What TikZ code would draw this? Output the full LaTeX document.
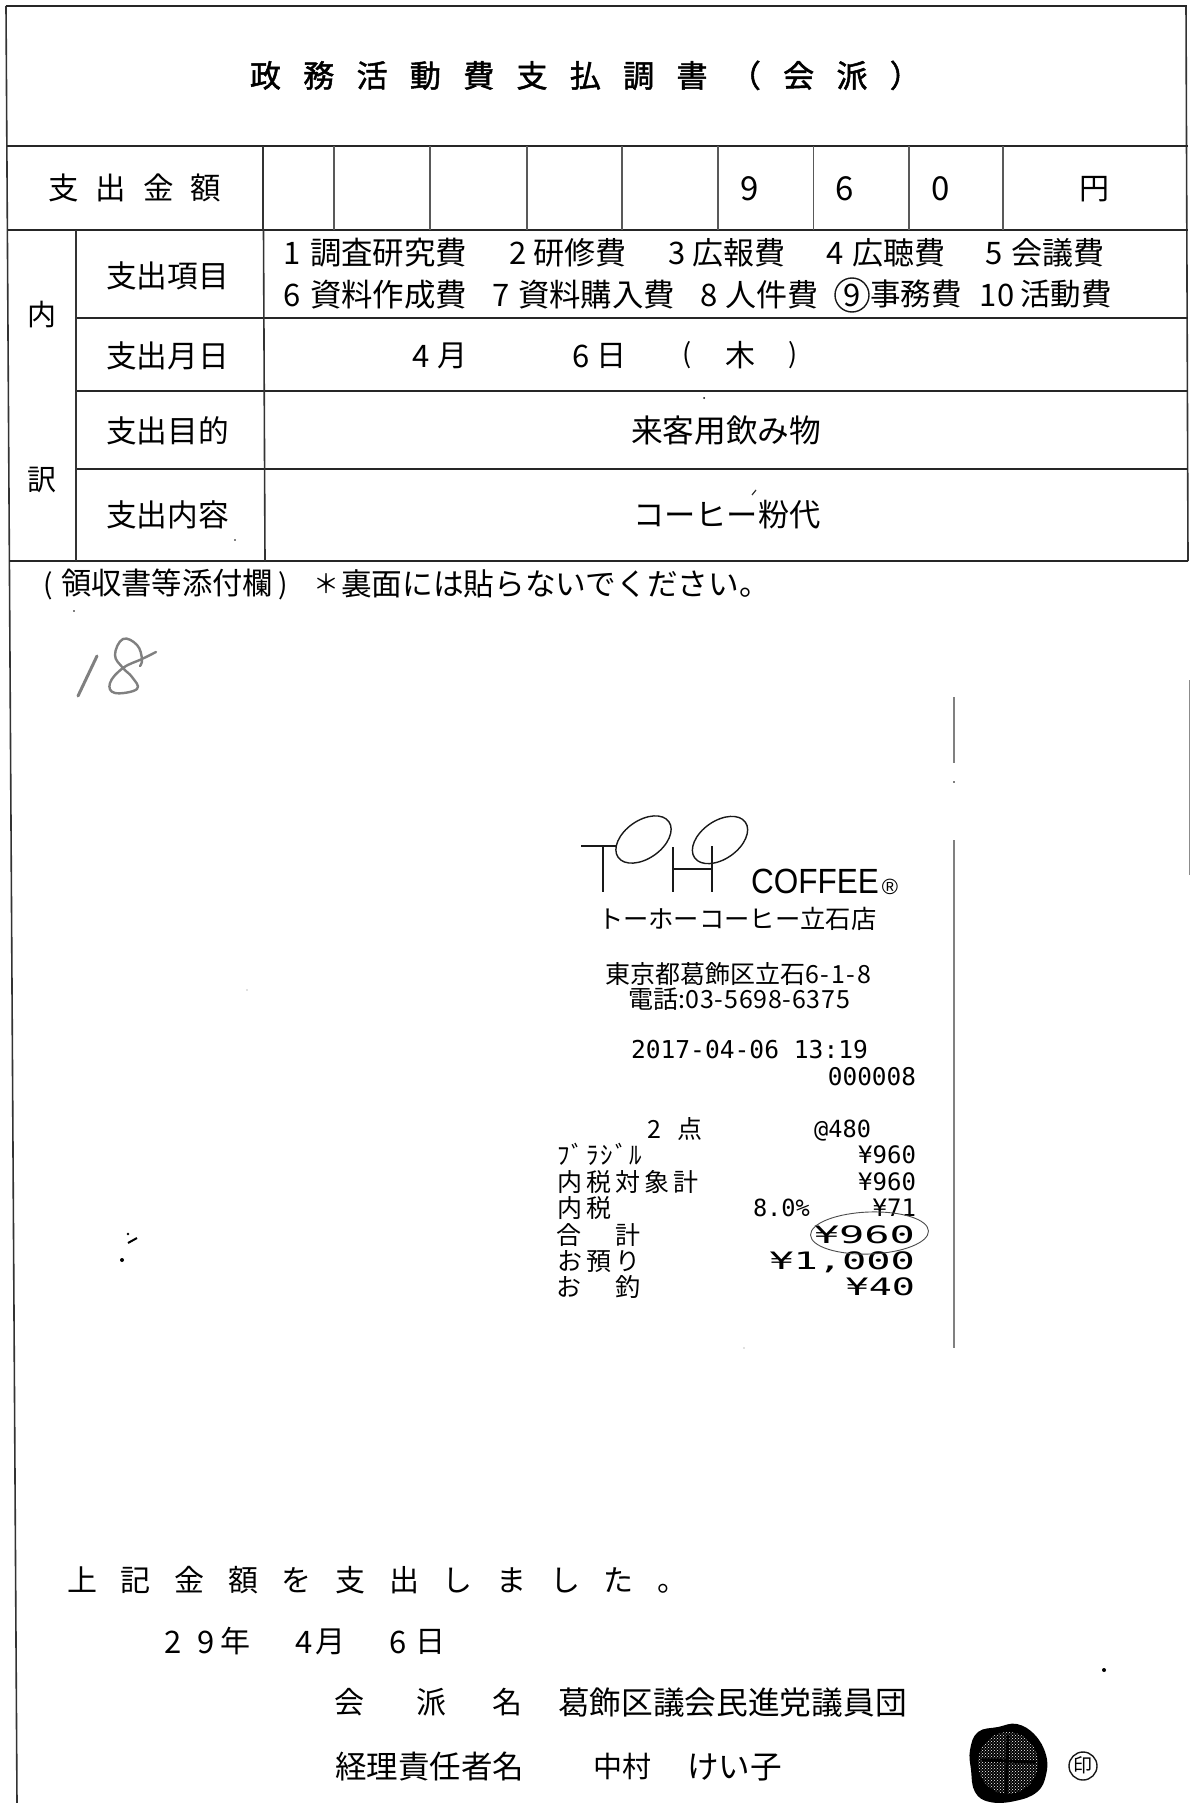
\documentclass[tikz,border=0pt]{standalone}
\usepackage{fontspec}
\usepackage{graphicx}
\usetikzlibrary{patterns}
\setmainfont{Noto Sans CJK JP}
\newfontfamily\rcfont{DejaVu Sans Mono}
\newfontfamily\lgfont{Liberation Sans}
\tikzset{
  txt/.style={inner sep=0pt,outer sep=0pt,text=black},
  frameh/.style={line width=2.2pt,black!85},
  framev/.style={line width=1.6pt,black!80},
  cellv/.style={line width=1.2pt,black!65},
  rollline/.style={line width=1.6pt,black!50},
  logoline/.style={line width=1.4pt,black!90},
  handink/.style={line width=3pt,black!50,line cap=round,line join=round},
  speck/.style={fill=black,draw=none}
}
% name, left x, centre y, size, letter spacing %, text
\newcommand\tx[6]{\node[txt,anchor=base west] (#1) at (#2,{#3+0.36*#4}) {\fontsize{#4pt}{#4pt}\selectfont\addfontfeature{LetterSpace=#5}#6};}
% name, centre x, centre y, size, text
\newcommand\cx[5]{\node[txt,anchor=base] (#1) at (#2,{#3+0.36*#4}) {\fontsize{#4pt}{#4pt}\selectfont #5};}
% mono left: name, left x, centre y, size, text
\newcommand\rl[5]{\node[txt,anchor=base west] (#1) at (#2,{#3+0.36*#4}) {\fontsize{#4pt}{#4pt}\selectfont\rcfont #5};}
% mono right: name, right x, centre y, size, x-stretch, text
\newcommand\rr[6]{\node[txt,anchor=base east] (#1) at (#2,{#3+0.36*#4}) {\scalebox{#5}[1]{\fontsize{#4pt}{#4pt}\selectfont\rcfont #6}};}
\begin{document}
\begin{tikzpicture}[x=1pt,y=-1pt]
\useasboundingbox (0,0) rectangle (1190,1803);
\fill[white] (0,0) rectangle (1190,1803);
% frame
\draw[framev] (6,6) -- (17,1803);
\draw[framev] (1186,6) -- (1188,561);
\draw[line width=1pt,black!45] (1189,680) -- (1189,875);
\draw[frameh] (6,6) -- (1187,6);
\draw[frameh] (7,146) -- (1188,146);
\draw[frameh] (8,230) -- (1188,230);
\draw[frameh] (76,318) -- (1188,318);
\draw[frameh] (76,391) -- (1188,391);
\draw[frameh] (76,469) -- (1188,469);
\draw[frameh] (9,561) -- (1188,561);
\draw[framev] (76,230) -- (76,561);
\draw[framev] (263,146) -- (263,230);
\draw[framev] (263.5,230) -- (265,561);
\foreach \cxv in {334,430,527,622,718,813.5,909,1003}{\draw[cellv] (\cxv,146) -- (\cxv,230);}
% title
\tx{title}{250}{76}{31}{72}{\addfontfeature{FakeBold=1.6}政務活動費支払調書（会派）}
% amount row
\tx{amtlabel}{48}{189}{30.5}{56}{支出金額}
\cx{d9}{750}{189}{33}{9}
\cx{d6}{845}{189}{33}{6}
\cx{d0}{941}{189}{33}{0}
\cx{yen}{1094}{189}{30}{円}
% side labels
\cx{uchi}{42}{315}{29}{内}
\cx{wake}{42}{480}{29}{訳}
% row labels
\tx{l1}{106}{276}{30.7}{0}{支出項目}
\tx{l2}{106}{356}{30.7}{0}{支出月日}
\tx{l3}{106}{431}{30.7}{0}{支出目的}
\tx{l4}{106}{515}{30.7}{0}{支出内容}
% items row 1
\cx{n1}{292}{253}{31}{1}\tx{i1}{310}{253}{31.4}{0}{調査研究費}
\cx{n2}{518}{253}{31}{2}\tx{i2}{533}{253}{31}{0}{研修費}
\cx{n3}{677}{253}{31}{3}\tx{i3}{692}{253}{31}{0}{広報費}
\cx{n4}{835}{253}{31}{4}\tx{i4}{852}{253}{31}{0}{広聴費}
\cx{n5}{994}{253}{31}{5}\tx{i5}{1011}{253}{31}{0}{会議費}
% items row 2
\cx{n6}{292}{295}{31}{6}\tx{i6}{310}{295}{31.4}{0}{資料作成費}
\cx{n7}{501}{295}{31}{7}\tx{i7}{518}{295}{31.4}{0}{資料購入費}
\cx{n8}{709}{295}{31}{8}\tx{i8}{725}{295}{31}{0}{人件費}
\cx{n9}{852}{295}{31}{9}\tx{i9}{870}{295}{30.5}{0}{事務費}
\draw[line width=1.4pt,black!90] (852,295) circle (17);
\cx{n10}{997}{295}{31}{10}\tx{i10}{1020}{295}{30.5}{0}{活動費}
% date row
\cx{dm}{421}{356}{31}{4}\cx{dmk}{452}{356}{30}{月}
\cx{dd}{581}{356}{31}{6}\cx{ddk}{611}{356}{30}{日}
\cx{dpl}{687}{354}{27}{(}\cx{dwk}{740}{356}{30}{木}\cx{dpr}{793}{354}{27}{)}
% purpose, content
\tx{purpose}{631}{431}{31.7}{0}{来客用飲み物}
\tx{content}{633}{515}{31.3}{0}{コーヒー粉代}
\draw[line width=1.2pt,black!80] (752,495) -- (756,490);
\fill[speck] (704,398) circle (1);
\fill[speck] (235,540) circle (0.8);
% attachment note
\cx{attl}{48}{584}{28}{(}
\tx{attach}{61}{584}{30.3}{0}{領収書等添付欄}
\cx{attr}{283}{584}{28}{)}
\cx{star}{326}{584}{26}{＊}
\tx{note}{341}{584}{30.7}{0}{裏面には貼らないでください。}
% handwritten 18
\draw[handink] (97,656) -- (78,696);
\draw[handink,line width=2.4pt] plot[smooth,tension=0.7] coordinates {(156,652) (142,659) (123,668) (110,683) (115,693) (137,689) (132,677) (123,668) (115,655) (123,639) (137,645) (142,659) (140,666)};
\fill[speck] (74,611) circle (0.8);
\fill[speck] (128,1234) circle (1.3);
\draw[line width=2pt] (128,1243) -- (137,1238);
\fill[speck] (122,1260) circle (2);
\fill[black!50] (247,990) circle (0.6);
\fill[black!50] (744,1348) circle (0.7);
% receipt edge
\draw[rollline] (954,697) -- (954,763);
\draw[rollline] (953,782) -- (955,782);
\draw[rollline] (954,840) -- (954,1348);
% logo
\draw[logoline] (581,846) -- (617,846);
\draw[logoline] (603,846) -- (603,892);
\draw[logoline] (643.5,839.5) ellipse [x radius=31,y radius=19,rotate=35];
\draw[logoline] (720,840) ellipse [x radius=31,y radius=19,rotate=35];
\draw[logoline] (673,847) -- (673,892);
\draw[logoline] (712,846) -- (712,892);
\draw[logoline] (673,869) -- (712,869);
\node[txt,anchor=base west] (coffee) at (751,893) {\scalebox{0.9}[1]{\fontsize{35pt}{35pt}\selectfont\lgfont COFFEE}};
\node[txt] (regmark) at (890,887) {\fontsize{22pt}{22pt}\selectfont\lgfont ®};
% receipt header
\tx{shop}{598}{919}{25.3}{0}{トーホーコーヒー立石店}
\tx{addr}{605}{974}{25}{0}{東京都葛飾区立石{\addfontfeature{LetterSpace=7}6-1-8}}
\tx{tel}{628}{999}{25}{0}{電話{\addfontfeature{LetterSpace=3}:03-5698-6375}}
\rl{stamp}{631}{1050}{24.6}{2017-04-06 13:19}
\rr{seq}{916}{1077}{24.4}{1}{000008}
% receipt lines
\cx{qty}{654}{1129}{25}{2}\cx{qtyk}{690}{1129}{25}{点}
\rr{unit}{871}{1129}{23.6}{1}{@480}
\tx{item}{557}{1155}{25}{8}{ﾌﾞﾗｼﾞﾙ}
\rr{price}{916}{1155}{24}{1}{¥960}
\tx{taxbase}{557}{1182}{25}{16}{内税対象計}
\rr{taxbasev}{916}{1182}{24}{1}{¥960}
\tx{tax}{557}{1208}{25}{16}{内税}
\rl{rate}{753}{1208}{23.6}{8.0\%}
\rr{taxv}{916}{1208}{24}{1}{¥71}
\cx{tot1}{569}{1235}{25}{合}\cx{tot2}{628}{1235}{25}{計}
\rr{totv}{915}{1235}{24}{1.75}{¥960}
\tx{dep}{557}{1261}{25}{16}{お預り}
\rr{depv}{915}{1261}{24}{1.68}{¥1,000}
\cx{chg1}{569}{1287}{25}{お}\cx{chg2}{628}{1287}{25}{釣}
\rr{chgv}{915}{1287}{24}{1.6}{¥40}
\draw[line width=0.9pt,black!70] (869.5,1233) ellipse [x radius=59,y radius=21,rotate=2];
% declaration
\tx{decl}{67}{1581}{30}{79}{上記金額を支出しました。}
\cx{y2}{173}{1642}{31}{2}\cx{y9}{206}{1642}{31}{9}\cx{yk}{235}{1642}{30}{年}
\cx{m4}{304}{1642}{31}{4}\cx{mk}{330}{1642}{30}{月}
\cx{d6b}{398}{1642}{31}{6}\cx{dk}{430}{1642}{30}{日}
\cx{k1}{349}{1703}{30}{会}\cx{k2}{431}{1703}{30}{派}\cx{k3}{507}{1703}{30}{名}
\tx{party}{558}{1703}{31.7}{0}{葛飾区議会民進党議員団}
\tx{acct}{335}{1767}{31.5}{0}{経理責任者名}
\tx{nm1}{593}{1767}{29}{0}{中村}
\tx{nm2}{687}{1767}{31.6}{0}{けい子}
% seal
\fill[black] plot[smooth cycle,tension=0.7] coordinates {(1017,1724) (1035,1735) (1046,1755) (1046,1775) (1037,1792) (1015,1801) (990,1802) (975,1792) (971,1770) (970,1750) (978,1732) (998,1727)};
\fill[pattern=crosshatch dots,pattern color=white] (1008,1763) ellipse [x radius=30,y radius=31];
\draw[line width=3pt,black] (982,1760) -- (1036,1762);
\draw[line width=3pt,black] (1008,1735) -- (1006,1795);
\draw[line width=1.4pt,black!90] (1083,1766) circle (14);
\cx{inmark}{1083}{1766}{19}{印}
\fill[speck] (1104,1670) circle (2);
\end{tikzpicture}
\end{document}
